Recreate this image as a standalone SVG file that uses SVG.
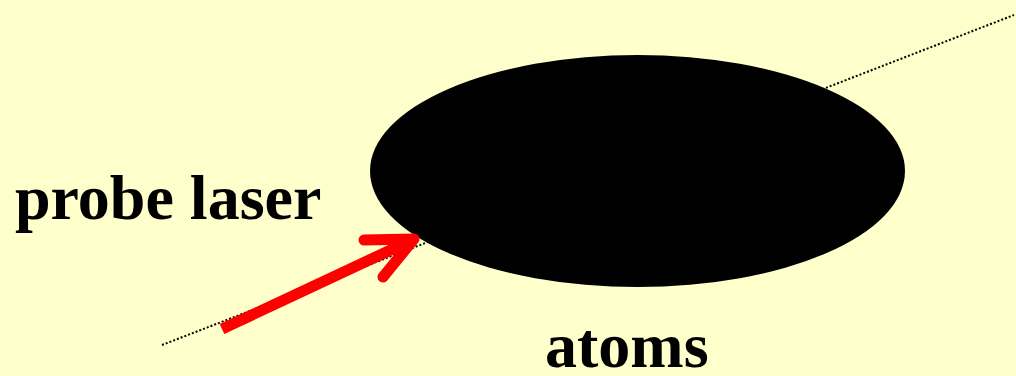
<svg xmlns="http://www.w3.org/2000/svg" width="1016" height="376" viewBox="0 0 1016 376">
<style>
.lbl{font-family:"Liberation Serif","Times New Roman",serif;font-weight:bold;font-size:64px;fill:#000}
.beam{stroke:#000;stroke-width:2;stroke-dasharray:2 2;fill:none}
.arrow{stroke:#FF0000;stroke-width:11;fill:none;stroke-linecap:round;stroke-linejoin:round}
</style>
<rect width="1016" height="376" fill="#FFFFCC"/>
<g id="connectors">
<line class="beam" x1="162" y1="345" x2="1014" y2="15"/>
</g>
<g id="atoms">
<ellipse cx="637.5" cy="171" rx="267.5" ry="116" fill="#000"/>
<text class="lbl" x="545" y="367">atoms</text>
</g>
<g id="probe-laser">
<text class="lbl" x="15" y="219">probe laser</text>
<path class="arrow" d="M222 329 L412 240" style="stroke-linecap:butt"/>
<path class="arrow" d="M364 240 L414 239 L383 277"/>
</g>
</svg>
